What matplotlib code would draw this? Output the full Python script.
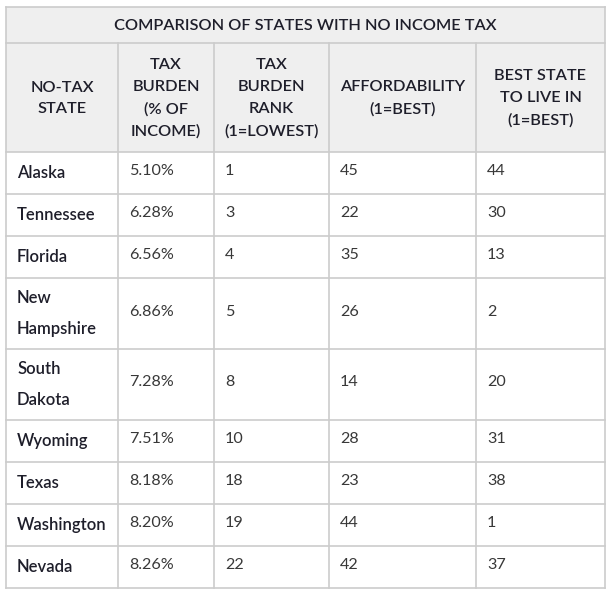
import numpy as np
import matplotlib.pyplot as plt
from matplotlib.patches import Rectangle

title = "COMPARISON OF STATES WITH NO INCOME TAX"
headers = ["NO-TAX\nSTATE", "TAX\nBURDEN\n(% OF\nINCOME)", "TAX\nBURDEN\nRANK\n(1=LOWEST)",
           "AFFORDABILITY\n(1=BEST)", "BEST STATE\nTO LIVE IN\n(1=BEST)"]
states = ["Alaska", "Tennessee", "Florida", "New\nHampshire", "South\nDakota",
          "Wyoming", "Texas", "Washington", "Nevada"]
tax_burden = [5.10, 6.28, 6.56, 6.86, 7.28, 7.51, 8.18, 8.20, 8.26]
burden_rank = [1, 3, 4, 5, 8, 10, 18, 19, 22]
affordability = [45, 22, 35, 26, 14, 28, 23, 44, 42]
best_state = [44, 30, 13, 2, 20, 31, 38, 1, 37]

# cell layout in pixels
col_x = [6, 118, 214, 329, 476, 605]
row_y = [152, 194, 236, 278, 349, 420, 462, 504, 546, 588]
title_y = (7, 43)

plt.rcParams['font.family'] = ['Lato', 'DejaVu Sans']
fig = plt.figure(figsize=(6.12, 5.93), dpi=100)
ax = fig.add_axes([0, 0, 1, 1])
ax.set_xlim(0, 612)
ax.set_ylim(593, 0)
ax.axis("off")

line_c = "#cccccc"
head_bg = "#efefef"
txt_c = "#1e1e2a"
num_c = "#383838"

# header backgrounds
ax.add_patch(Rectangle((col_x[0], title_y[0]), col_x[-1] - col_x[0], row_y[0] - title_y[0],
                       facecolor=head_bg, edgecolor="none"))
ax.text((col_x[0] + col_x[-1]) / 2, (title_y[0] + title_y[1]) / 2 + 1, title,
        ha="center", va="center", fontsize=11.8, color=txt_c, fontweight="semibold")
for i, h in enumerate(headers):
    ax.text((col_x[i] + col_x[i + 1]) / 2, (title_y[1] + row_y[0]) / 2 + 1, h,
            ha="center", va="center", fontsize=11.8, color=txt_c, fontweight="semibold",
            linespacing=1.72)

# grid lines
lw = 1.2
ax.plot([col_x[0], col_x[-1]], [title_y[0], title_y[0]], color=line_c, lw=lw)
ax.plot([col_x[0], col_x[-1]], [title_y[1], title_y[1]], color=line_c, lw=lw)
for y in row_y:
    ax.plot([col_x[0], col_x[-1]], [y, y], color=line_c, lw=lw)
ax.plot([col_x[0], col_x[0]], [title_y[0], row_y[-1]], color=line_c, lw=lw)
ax.plot([col_x[-1], col_x[-1]], [title_y[0], row_y[-1]], color=line_c, lw=lw)
for x in col_x[1:-1]:
    ax.plot([x, x], [title_y[1], row_y[-1]], color=line_c, lw=lw)

# body
for r in range(len(states)):
    yc = (row_y[r] + row_y[r + 1]) / 2
    ax.text(col_x[0] + 11, yc, states[r], ha="left", va="center", fontsize=12,
            color=txt_c, fontweight="semibold", linespacing=2.15)
    vals = ["%.2f%%" % tax_burden[r], str(burden_rank[r]), str(affordability[r]), str(best_state[r])]
    for c, v in enumerate(vals):
        ax.text(col_x[c + 1] + 11, yc - 2, v, ha="left", va="center", fontsize=11.6,
                color=num_c)

fig.savefig("out.png", dpi=100)
